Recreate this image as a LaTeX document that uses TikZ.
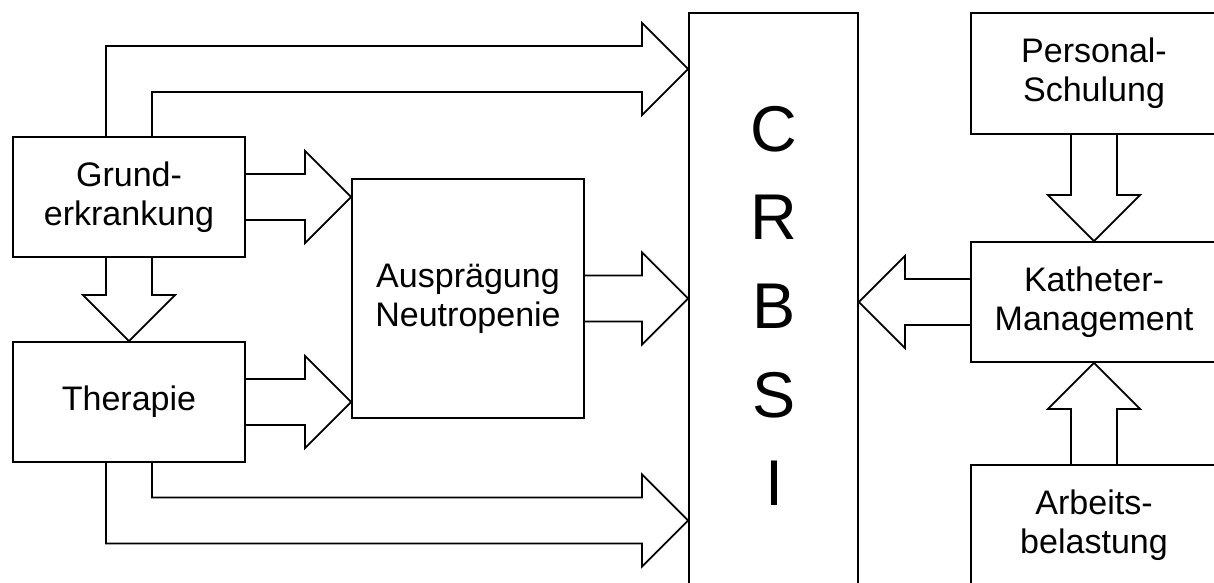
\documentclass[tikz,border=0pt]{standalone}
\usepackage{fontspec}
\setmainfont{Liberation Sans}
\usepackage{tikz}
\usetikzlibrary{calc}

\tikzset{
  box/.style={draw, line width=1.3pt, align=center, inner sep=0pt,
    font=\fontsize{24.2}{27.6}\selectfont},
  fat/.style={line width=1.3pt, line join=miter},
}
\newcommand{\fatarrow}[2]{%
  \coordinate (fah) at ($(#2)!1.15cm!(#1)$);
  \draw[fat] ($(#1)!0.575cm!90:(#2)$) -- ($(fah)!0.575cm!90:(#2)$)
    -- ($(fah)!1.15cm!90:(#2)$) -- (#2) -- ($(fah)!1.15cm!-90:(#2)$)
    -- ($(fah)!0.575cm!-90:(#2)$) -- ($(#1)!0.575cm!-90:(#2)$);
}

\begin{document}
\begin{tikzpicture}[x=0.025cm, y=-0.025cm]
        \useasboundingbox (0,0) rectangle (1214,583);
        \clip (0,0) rectangle (1214,583);
        \node[box, minimum width=5.8cm, minimum height=3cm] (grund) at (129,197) {Grund-\\erkrankung};
        \node[box, minimum width=5.8cm, minimum height=3cm] (therapie) at (129,402) {Therapie};
        \node[box, minimum width=5.8cm, minimum height=5.975cm] (auspr) at (468,298.5) {Ausprägung\\Neutropenie};
        \node[box, minimum width=4.225cm, minimum height=14.3cm] (crbsi) at (773.5,299) {};
        \node[font=\fontsize{46}{63}\selectfont, align=center] (crbsitext) at (774,306) {C\\R\\B\\S\\I};
        \node[box, minimum width=6.15cm, minimum height=3.025cm] (personal) at (1094,73.5) {Personal-\\Schulung};
        \node[box, minimum width=6.15cm, minimum height=3cm] (katheter) at (1094,302) {Katheter-\\Management};
        \node[box, minimum width=6.15cm, minimum height=3cm] (arbeit) at (1094,525) {Arbeits-\\belastung};
        \fatarrow{grund.east}{auspr.west |- grund.east}
        \fatarrow{therapie.east}{auspr.west |- therapie.east}
        \fatarrow{auspr.east}{crbsi.west |- auspr.east}
        \fatarrow{katheter.west}{crbsi.east |- katheter.west}
        \fatarrow{grund.south}{therapie.north}
        \fatarrow{personal.south}{katheter.north}
        \fatarrow{arbeit.north}{katheter.south}
        \coordinate (toptip) at ($(crbsi.north west)+(0,57)$);
        \coordinate (bottip) at ($(crbsi.north west)+(0,508.5)$);
        \draw[fat] ($(grund.north)+(-23,0)$) |- ($(toptip)+(-46,-23)$) -- ++(0,-23) -- (toptip)
            -- ++(-46,46) -- ++(0,-23) -| ($(grund.north)+(23,0)$);
        \draw[fat] ($(therapie.south)+(-23,0)$) |- ($(bottip)+(-46,23)$) -- ++(0,23) -- (bottip)
            -- ++(-46,-46) -- ++(0,23) -| ($(therapie.south)+(23,0)$);
    \end{tikzpicture}
\end{document}
